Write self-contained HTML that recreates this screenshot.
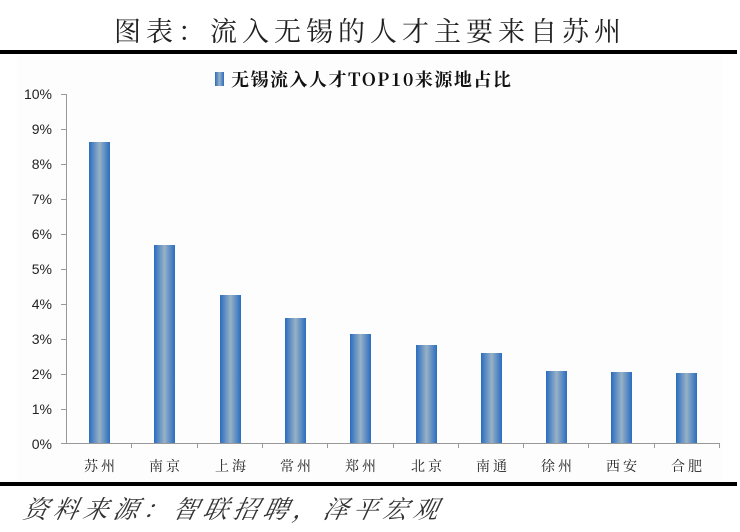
<!DOCTYPE html>
<html><head><meta charset="utf-8"><style>
body{margin:0;width:740px;height:532px;background:#fff;overflow:hidden;position:relative}
</style></head><body>
<svg width="740" height="532" style="position:absolute;left:0;top:0" font-family="Liberation Sans, Noto Sans CJK SC, sans-serif">
<defs><linearGradient id="g" x1="0" x2="1" y1="0" y2="0">
<stop offset="0" stop-color="#2a6cc0"/><stop offset="0.5" stop-color="#98b2c6"/><stop offset="1" stop-color="#2a6cc0"/></linearGradient></defs>
<text x="370" y="41" text-anchor="middle" font-family="Noto Serif CJK SC, serif" font-size="27" fill="#222" letter-spacing="5">图表：流入无锡的人才主要来自苏州</text>
<rect x="0" y="50" width="737" height="4" fill="#000"/>
<rect x="17" y="56" width="705" height="424" fill="#fdfdfd"/>
<rect x="0" y="482" width="737" height="4" fill="#000"/>
<rect x="215" y="72" width="9" height="14" fill="url(#g)"/>
<text x="231" y="86" font-family="Noto Serif CJK SC, serif" font-weight="bold" font-size="18" fill="#111" letter-spacing="1.5">无锡流入人才TOP10来源地占比</text>
<g stroke="#999" stroke-width="1">
<line x1="66.5" y1="94" x2="66.5" y2="443"/>
<line x1="66" y1="443.5" x2="719" y2="443.5"/>
</g>
<g font-size="14" fill="#222" text-anchor="end">
<text x="52" y="99">10%</text><text x="52" y="134">9%</text><text x="52" y="169">8%</text><text x="52" y="204">7%</text><text x="52" y="239">6%</text><text x="52" y="274">5%</text><text x="52" y="309">4%</text><text x="52" y="344">3%</text><text x="52" y="379">2%</text><text x="52" y="414">1%</text><text x="52" y="449">0%</text>
</g>
<g stroke="#999"><path d="M61 94.5h5M61 129.5h5M61 164.5h5M61 199.5h5M61 234.5h5M61 269.5h5M61 304.5h5M61 339.5h5M61 374.5h5M61 409.5h5M61 443.5h5"/>
<path d="M131.5 443v5M197.5 443v5M262.5 443v5M327.5 443v5M393.5 443v5M458.5 443v5M523.5 443v5M588.5 443v5M654.5 443v5M719.5 443v5"/></g>
<g fill="url(#g)">
<rect x="89" y="142" width="21" height="301"/>
<rect x="154" y="245" width="21" height="198"/>
<rect x="220" y="295" width="21" height="148"/>
<rect x="285" y="318" width="21" height="125"/>
<rect x="350" y="334" width="21" height="109"/>
<rect x="416" y="345" width="21" height="98"/>
<rect x="481" y="353" width="21" height="90"/>
<rect x="546" y="371" width="21" height="72"/>
<rect x="611" y="372" width="21" height="71"/>
<rect x="676" y="373" width="21" height="70"/>
</g>
<g font-family="Noto Serif CJK SC, serif" font-size="14" fill="#222" text-anchor="middle" letter-spacing="3">
<text x="101" y="471">苏州</text><text x="166" y="471">南京</text><text x="232" y="471">上海</text><text x="297" y="471">常州</text><text x="362" y="471">郑州</text><text x="428" y="471">北京</text><text x="493" y="471">南通</text><text x="558" y="471">徐州</text><text x="623" y="471">西安</text><text x="688" y="471">合肥</text>
</g>
<text x="22" y="518" font-family="Noto Serif CJK SC, serif" font-style="italic" font-size="25" fill="#333" letter-spacing="5" transform="skewX(-12) translate(110,0)">资料来源：智联招聘，泽平宏观</text>
</svg>
</body></html>
